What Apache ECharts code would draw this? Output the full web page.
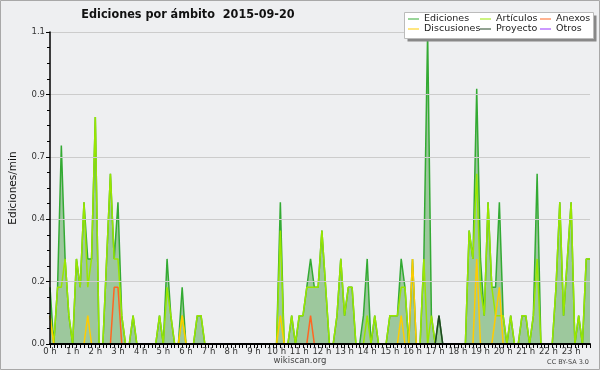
<!DOCTYPE html>
<html><head><meta charset="utf-8">
<script src="https://cdn.jsdelivr.net/npm/echarts@6/dist/echarts.min.js"></script>
<style>html,body{margin:0;padding:0;background:#eeeff1}#c{width:600px;height:370px}</style>
</head><body><div id="c"></div>
<script>
// Hour tick labels
const hourLabels = ['0 h','1 h','2 h','3 h','4 h','5 h','6 h','7 h','8 h','9 h','10 h','11 h',
  '12 h','13 h','14 h','15 h','16 h','17 h','18 h','19 h','20 h','21 h','22 h','23 h'];
// Series values (edits/min, one value per 10-minute slot, 6 per hour)
const ediciones = [
  0.2,0,0.2,0.7,0.3,0.1,   0,0.3,0.2,0.5,0.3,0.3,   0.8,0,0,0.3,0.6,0.3,   0.5,0.1,0,0,0.1,0,
  0,0,0,0,0,0.1,           0,0.3,0.1,0,0,0.2,       0,0,0,0.1,0.1,0,       0,0,0,0,0,0,
  0,0,0,0,0,0,             0,0,0,0,0,0,             0,0.5,0,0,0.1,0,       0.1,0.1,0.2,0.3,0.2,0.2,
  0.4,0.2,0,0,0.1,0.3,     0.1,0.2,0.2,0,0,0.1,     0.3,0,0.1,0,0,0,       0.1,0.1,0.1,0.3,0.2,0,
  0.3,0,0,0.3,1.1,0.1,     0,0.1,0,0,0,0,           0,0,0,0.4,0.3,0.9,     0.3,0.1,0.5,0.2,0.2,0.5,
  0.1,0,0.1,0,0,0.1,       0.1,0,0.1,0.6,0,0,       0,0,0.2,0.5,0.1,0.3,   0.5,0,0.1,0,0.3,0.3
];
const articulos = [
  0.1,0,0.2,0.2,0.3,0.1,   0,0.3,0.2,0.5,0.2,0.3,   0.8,0,0,0.3,0.6,0.3,   0.3,0.1,0,0,0.1,0,
  0,0,0,0,0,0.1,           0,0.2,0.1,0,0,0.1,       0,0,0,0.1,0.1,0,       0,0,0,0,0,0,
  0,0,0,0,0,0,             0,0,0,0,0,0,             0,0.4,0,0,0.1,0,       0.1,0.1,0.2,0.2,0.2,0.2,
  0.4,0.2,0,0,0.1,0.3,     0.1,0.2,0.2,0,0,0,       0.1,0,0.1,0,0,0,       0.1,0.1,0.1,0.2,0.2,0,
  0,0,0,0.3,0,0.1,         0,0,0,0,0,0,             0,0,0,0.4,0.3,0.6,     0.2,0.1,0.5,0.2,0.1,0.1,
  0.1,0,0.1,0,0,0.1,       0.1,0,0.1,0.3,0,0,       0,0,0.2,0.5,0.1,0.3,   0.5,0,0.1,0,0.3,0.3
];
const anexos = [
  0,0,0,0,0,0,  0,0,0,0,0,0,  0,0,0,0,0,0.2,  0.2,0,0,0,0,0,
  0,0,0,0,0,0,  0,0,0,0,0,0,  0,0,0,0,0,0,    0,0,0,0,0,0,
  0,0,0,0,0,0,  0,0,0,0,0,0,  0,0,0,0,0,0,    0,0,0,0.1,0,0,
  0,0,0,0,0,0,  0,0,0,0,0,0,  0,0,0,0,0,0,    0,0,0,0,0,0,
  0,0,0,0,0,0,  0,0,0,0,0,0,  0,0,0,0,0,0,    0,0,0,0,0,0,
  0,0,0,0,0,0,  0,0,0,0,0,0,  0,0,0,0,0,0,    0,0,0,0,0,0
];
const discusiones = [
  0.1,0,0,0,0,0,  0,0,0,0,0.1,0,  0,0,0,0,0,0,    0,0,0,0,0,0,
  0,0,0,0,0,0,    0,0,0,0,0,0.1,  0,0,0,0,0,0,    0,0,0,0,0,0,
  0,0,0,0,0,0,    0,0,0,0,0,0,    0,0.1,0,0,0,0,  0,0,0,0,0,0,
  0,0,0,0,0,0,    0,0,0,0,0,0,    0,0,0,0,0,0,    0,0,0,0.1,0,0,
  0.3,0,0,0,0,0,  0,0,0,0,0,0,    0,0,0,0,0,0.3,  0,0,0,0,0.1,0.2,
  0,0,0,0,0,0,    0,0,0,0,0,0,    0,0,0,0,0,0,    0,0,0,0,0,0
];
const proyecto = [
  0,0,0,0,0,0,  0,0,0,0,0,0,  0,0,0,0,0,0,  0,0,0,0,0,0,
  0,0,0,0,0,0,  0,0,0,0,0,0,  0,0,0,0,0,0,  0,0,0,0,0,0,
  0,0,0,0,0,0,  0,0,0,0,0,0,  0,0,0,0,0,0,  0,0,0,0,0,0,
  0,0,0,0,0,0,  0,0,0,0,0,0,  0,0,0,0,0,0,  0,0,0,0,0,0,
  0,0,0,0,0,0,  0,0.1,0,0,0,0,0,0,0,0,0,0,  0,0,0,0,0,0,
  0,0,0,0,0,0,  0,0,0,0,0,0,  0,0,0,0,0,0,  0,0,0,0,0,0
];
const otros = [
  0,0,0,0,0,0,  0,0,0,0,0,0,  0,0,0,0,0,0,  0,0,0,0,0,0,
  0,0,0,0,0,0,  0,0,0,0,0,0,  0,0,0,0,0,0,  0,0,0,0,0,0,
  0,0,0,0,0,0,  0,0,0,0,0,0,  0,0,0,0,0,0,  0,0,0,0,0,0,
  0,0,0,0,0,0,  0,0,0,0,0,0,  0,0,0,0,0,0,  0,0,0,0,0,0,
  0,0,0,0,0,0,  0,0,0,0,0,0,  0,0,0,0,0,0,  0,0,0,0,0,0,
  0,0,0,0,0,0,  0,0,0,0,0,0,  0,0,0,0,0,0,  0,0,0,0,0,0
];
const slots = [];
for (let h = 0; h < 24; h++) for (let m = 0; m < 60; m += 10) slots.push(h + ':' + (m < 10 ? '0' : '') + m);

const F = 'DejaVu Sans';
const chart = echarts.init(document.getElementById('c'), null, {renderer: 'canvas'});
function ln(name, data, color, z) {
  return {name, type: 'line', data, color, symbol: 'none', z,
    lineStyle: {width: 1.5, color}, emphasis: {disabled: true}};
}
const legendCommon = {orient: 'vertical', top: 14, itemWidth: 11, itemHeight: 1, icon: 'rect',
  itemGap: 0, padding: 0, selectedMode: false, z: 12,
  textStyle: {fontFamily: F, fontSize: 9.5, color: '#222', lineHeight: 10, padding: [0, 0, 0, 0]}};
chart.setOption({
  animation: false,
  backgroundColor: '#eeeff1',
  grid: {left: 46, right: 10, top: 32, bottom: 26},
  xAxis: {type: 'category', boundaryGap: false, data: slots, z: 5,
    axisLine: {lineStyle: {color: '#000', width: 2}},
    axisTick: {interval: 0, length: 4, lineStyle: {color: '#000', width: 1}},
    axisLabel: {interval: 5, formatter: (v, i) => hourLabels[Math.round(i / 6)],
      fontFamily: F, fontSize: 8.5, color: '#333', margin: 3},
    splitLine: {show: false}},
  yAxis: {type: 'value', min: 0, max: 1.1, interval: 0.22, z: 5,
    name: 'Ediciones/min', nameLocation: 'middle', nameGap: 31,
    nameTextStyle: {fontFamily: F, fontSize: 10.5, color: '#111'},
    axisLine: {show: true, lineStyle: {color: '#000', width: 1.5}},
    axisTick: {show: true, length: 4, lineStyle: {color: '#000'}},
    minorTick: {show: true, splitNumber: 4, length: 3, lineStyle: {color: '#000'}},
    axisLabel: {formatter: v => v.toFixed(1), fontFamily: F, fontSize: 8.5, color: '#333', margin: 5},
    splitLine: {lineStyle: {color: '#cccccc', width: 1}}},
  legend: [
    Object.assign({left: 408, data: ['Ediciones', 'Discusiones']}, legendCommon),
    Object.assign({left: 480, data: ['Artículos', 'Proyecto']}, legendCommon),
    Object.assign({left: 540, data: ['Anexos', 'Otros']}, legendCommon)
  ],
  graphic: [
    {type: 'rect', z: 10, shape: {x: 407.5, y: 15.5, width: 189, height: 26}, style: {fill: '#888'}},
    {type: 'rect', z: 10, shape: {x: 404.5, y: 12.5, width: 189, height: 26}, style: {fill: '#fff', stroke: '#bbb', lineWidth: 1}},
    {type: 'text', z: 10, style: {text: 'Ediciones por ámbito  2015-09-20', x: 188, y: 15, align: 'center', verticalAlign: 'middle',
      fontFamily: "'Liberation Sans Narrow', 'DejaVu Sans Condensed', sans-serif", fontWeight: 'bold', fontSize: 12.5, fill: '#111'}},
    {type: 'text', z: 10, style: {text: 'wikiscan.org', x: 300, y: 361, align: 'center', verticalAlign: 'middle',
      fontFamily: F, fontSize: 8.5, fill: '#444'}},
    {type: 'text', z: 10, style: {text: 'CC BY-SA 3.0', x: 589, y: 362, align: 'right', verticalAlign: 'middle',
      fontFamily: F, fontSize: 6.5, fill: '#444'}},
    {type: 'rect', z: 10, shape: {x: 0.5, y: 0.5, width: 599, height: 369}, style: {fill: 'none', stroke: '#a8a8a8', lineWidth: 1}}
  ],
  series: [
    Object.assign(ln('Ediciones', ediciones, '#33aa33', 2), {areaStyle: {color: '#9dc89d', opacity: 1}}),
    ln('Artículos', articulos, '#99e600', 3),
    ln('Discusiones', discusiones, '#ffcc00', 4),
    ln('Anexos', anexos, '#ff6622', 4),
    ln('Proyecto', proyecto, '#224422', 4),
    ln('Otros', otros, '#9933ff', 4)
  ]
});
</script></body></html>
